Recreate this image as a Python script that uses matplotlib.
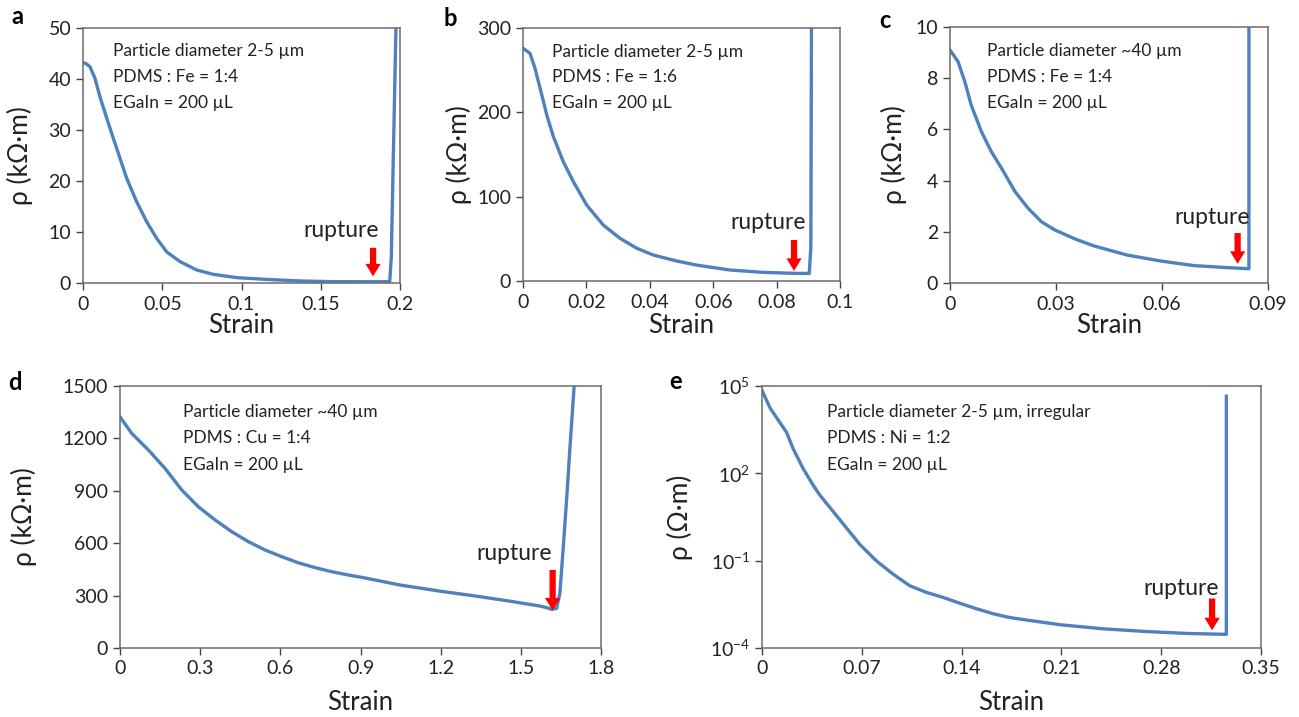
import matplotlib
matplotlib.use("Agg")
import matplotlib.pyplot as plt

plt.rcParams['font.family'] = ['Lato', 'DejaVu Sans']

# ---------------- data ----------------
a_strain = [0, 0.002, 0.0044, 0.0076, 0.0107, 0.015, 0.0191, 0.0233, 0.0276, 0.0339, 0.0402, 0.0465,
            0.0528, 0.0612, 0.0717, 0.0822, 0.097, 0.116, 0.137, 0.158, 0.18, 0.1935, 0.1945, 0.1975]
a_rho = [43.2, 43.0, 42.4, 40.1, 36.5, 32.3, 28.4, 24.5, 20.5, 15.9, 12.0, 8.75,
         6.1, 4.2, 2.55, 1.7, 1.05, 0.7, 0.4, 0.26, 0.25, 0.25, 5, 51]

b_strain = [0, 0.0022, 0.0038, 0.0054, 0.0075, 0.0096, 0.0127, 0.0159, 0.0201, 0.0253, 0.0306, 0.0359,
            0.0411, 0.0485, 0.0547, 0.0653, 0.076, 0.0865, 0.0903, 0.0908, 0.091]
b_rho = [276, 270, 252, 228.5, 196.8, 171, 141.5, 117.7, 90, 66.4, 50.6, 38.8,
         30.8, 23.7, 18.9, 13, 10.2, 9, 9, 40, 305]

c_strain = [0, 0.0023, 0.0042, 0.006, 0.0089, 0.0117, 0.0146, 0.0184, 0.0221, 0.0259, 0.0297, 0.0354,
            0.0407, 0.0502, 0.0596, 0.069, 0.0786, 0.0843, 0.0846, 0.0846]
c_rho = [9.1, 8.64, 7.86, 6.95, 5.91, 5.13, 4.48, 3.57, 2.92, 2.39, 2.07, 1.72,
         1.45, 1.09, 0.86, 0.68, 0.6, 0.56, 0.56, 10.2]

d_strain = [0, 0.0437, 0.106, 0.168, 0.231, 0.293, 0.356, 0.418, 0.48, 0.543, 0.605, 0.667, 0.73,
            0.792, 0.854, 0.91, 1.05, 1.2, 1.347, 1.472, 1.572, 1.597, 1.615, 1.634, 1.646, 1.659,
            1.672, 1.684, 1.7]
d_rho = [1323, 1229, 1134, 1029, 905, 809, 733, 666, 609, 561, 523, 488, 460,
         437, 418, 403, 360, 325, 294, 265, 240, 231, 221, 227, 313, 580,
         866, 1153, 1510]

e_strain = [0, 0.0056, 0.0126, 0.0173, 0.0219, 0.0289, 0.0359, 0.0406, 0.0499, 0.0593, 0.0686, 0.0803,
            0.0919, 0.1036, 0.1153, 0.1269, 0.1386, 0.1503, 0.1619, 0.1724, 0.18, 0.209, 0.239, 0.268,
            0.298, 0.3245, 0.3257, 0.3257]
e_log_rho = [4.85, 4.25, 3.74, 3.40, 2.84, 2.16, 1.59, 1.25, 0.69, 0.12, -0.44, -1.01,
             -1.46, -1.86, -2.09, -2.26, -2.46, -2.65, -2.82, -2.94, -3.0, -3.20, -3.34, -3.43,
             -3.50, -3.53, -3.53, 4.65]

a_ticks_x = [0, 0.05, 0.1, 0.15, 0.2]
a_ticks_xl = ['0', '0.05', '0.1', '0.15', '0.2']
a_ticks_y = [0, 10, 20, 30, 40, 50]
b_ticks_x = [0, 0.02, 0.04, 0.06, 0.08, 0.1]
b_ticks_xl = ['0', '0.02', '0.04', '0.06', '0.08', '0.1']
b_ticks_y = [0, 100, 200, 300]
c_ticks_x = [0, 0.03, 0.06, 0.09]
c_ticks_xl = ['0', '0.03', '0.06', '0.09']
c_ticks_y = [0, 2, 4, 6, 8, 10]
d_ticks_x = [0, 0.3, 0.6, 0.9, 1.2, 1.5, 1.8]
d_ticks_xl = ['0', '0.3', '0.6', '0.9', '1.2', '1.5', '1.8']
d_ticks_y = [0, 300, 600, 900, 1200, 1500]
e_ticks_x = [0, 0.07, 0.14, 0.21, 0.28, 0.35]
e_ticks_xl = ['0', '0.07', '0.14', '0.21', '0.28', '0.35']
e_ticks_y = [1e-4, 1e-1, 1e2, 1e5]
e_ticks_yl = ['$\\mathregular{10^{-4}}$', '$\\mathregular{10^{-1}}$', '$\\mathregular{10^{2}}$', '$\\mathregular{10^{5}}$']

a_notes = ['Particle diameter 2-5 µm', 'PDMS : Fe = 1:4', 'EGaIn = 200 µL']
b_notes = ['Particle diameter 2-5 µm', 'PDMS : Fe = 1:6', 'EGaIn = 200 µL']
c_notes = ['Particle diameter ~40 µm', 'PDMS : Fe = 1:4', 'EGaIn = 200 µL']
d_notes = ['Particle diameter ~40 µm', 'PDMS : Cu = 1:4', 'EGaIn = 200 µL']
e_notes = ['Particle diameter 2-5 µm, irregular', 'PDMS : Ni = 1:2', 'EGaIn = 200 µL']

# rupture arrows: (x, tail_y, tip_y), text (x, y)
a_arrow = (0.183, 6.9, 1.3); a_rtext = (0.163, 10.2)
b_arrow = (0.0855, 48.6, 12); b_rtext = (0.0773, 68.8)
c_arrow = (0.0814, 1.95, 0.75); c_rtext = (0.0743, 2.57)
d_arrow = (1.619, 447, 215); d_rtext = (1.474, 542)
e_arrow = (0.3157, 10 ** -2.30, 10 ** -3.39); e_rtext = (0.294, 10 ** -1.96)

# ---------------- figure ----------------
W, H = 1299, 717
fig = plt.figure(figsize=(W / 100, H / 100), dpi=100)

LINE = '#4F81BD'
TXT = '#222222'


def add_ax(l, r, t, b):
    return fig.add_axes([l / W, (H - b) / H, (r - l) / W, (b - t) / H])


def style(ax, xlim, ylim, xt, xtl, yt, ytl, ylabel, ylx, xly, letter, lxy):
    ax.set_xlim(*xlim)
    ax.set_ylim(*ylim)
    ax.set_xticks(xt)
    ax.set_xticklabels(xtl)
    ax.set_yticks(yt)
    if ytl is not None:
        ax.set_yticklabels(ytl)
    ax.minorticks_off()
    ax.tick_params(axis='both', direction='out', length=5, width=1, colors='#444444',
                   labelcolor=TXT, labelsize=14)
    ax.tick_params(axis='x', pad=4)
    for s in ax.spines.values():
        s.set_color('#6b6b6b')
        s.set_linewidth(1.1)
    ax.set_ylabel(ylabel, fontsize=19, color=TXT)
    ax.yaxis.set_label_coords(ylx, 0.5)
    ax.set_xlabel('Strain', fontsize=18.5, color=TXT)
    ax.xaxis.set_label_coords(0.5, xly)
    fig.text(lxy[0] / W, 1 - lxy[1] / H, letter, fontsize=17, fontweight='bold',
             color='black', ha='center', va='center')


def notes(ax, lines, x0, ys):
    for line, y in zip(lines, ys):
        ax.text(x0, y, line, transform=ax.transAxes, fontsize=12.5, color=TXT,
                ha='left', va='center')


def rupture(ax, arrow, rtext):
    ax.annotate('', xy=(arrow[0], arrow[2]), xytext=(arrow[0], arrow[1]),
                arrowprops=dict(arrowstyle='simple,head_width=1.1,head_length=0.9,tail_width=0.45',
                                color='#ff0000', lw=0, shrinkA=0, shrinkB=0))
    ax.text(rtext[0], rtext[1], 'rupture', fontsize=16.5, color=TXT,
            ha='center', va='center')


# panel a
ax = add_ax(83, 400, 28, 283)
ax.plot(a_strain, a_rho, color=LINE, lw=2.4, solid_joinstyle='round')
style(ax, (0, 0.2), (0, 50), a_ticks_x, a_ticks_xl, a_ticks_y, None,
      'ρ (kΩ·m)', -0.158, -0.118, 'a', (17, 17))
notes(ax, a_notes, 0.095, [0.91, 0.808, 0.706])
rupture(ax, a_arrow, a_rtext)

# panel b
ax = add_ax(523, 840, 28, 281)
ax.plot(b_strain, b_rho, color=LINE, lw=2.4, solid_joinstyle='round')
style(ax, (0, 0.1), (0, 300), b_ticks_x, b_ticks_xl, b_ticks_y, None,
      'ρ (kΩ·m)', -0.161, -0.126, 'b', (450, 18))
notes(ax, b_notes, 0.092, [0.905, 0.805, 0.703])
rupture(ax, b_arrow, b_rtext)

# panel c
ax = add_ax(950, 1268, 27, 283)
ax.plot(c_strain, c_rho, color=LINE, lw=2.4, solid_joinstyle='round')
style(ax, (0, 0.09), (0, 10), c_ticks_x, c_ticks_xl, c_ticks_y, None,
      'ρ (kΩ·m)', -0.136, -0.118, 'c', (885, 20))
notes(ax, c_notes, 0.117, [0.905, 0.805, 0.703])
rupture(ax, c_arrow, c_rtext)

# panel d
ax = add_ax(120, 601, 386, 648)
ax.plot(d_strain, d_rho, color=LINE, lw=2.4, solid_joinstyle='round')
style(ax, (0, 1.8), (0, 1500), d_ticks_x, d_ticks_xl, d_ticks_y, None,
      'ρ (kΩ·m)', -0.172, -0.16, 'd', (15, 383))
notes(ax, d_notes, 0.13, [0.9, 0.8, 0.7])
rupture(ax, d_arrow, d_rtext)

# panel e
ax = add_ax(762, 1261, 386, 648)
ax.plot(e_strain, [10 ** v for v in e_log_rho], color=LINE, lw=2.4, solid_joinstyle='round')
ax.set_yscale('log')
style(ax, (0, 0.35), (1e-4, 1e5), e_ticks_x, e_ticks_xl, e_ticks_y, e_ticks_yl,
      'ρ (Ω·m)', -0.138, -0.16, 'e', (676, 382))
notes(ax, e_notes, 0.13, [0.9, 0.8, 0.7])
rupture(ax, e_arrow, e_rtext)

fig.savefig('out.png', dpi=100, facecolor='white')
